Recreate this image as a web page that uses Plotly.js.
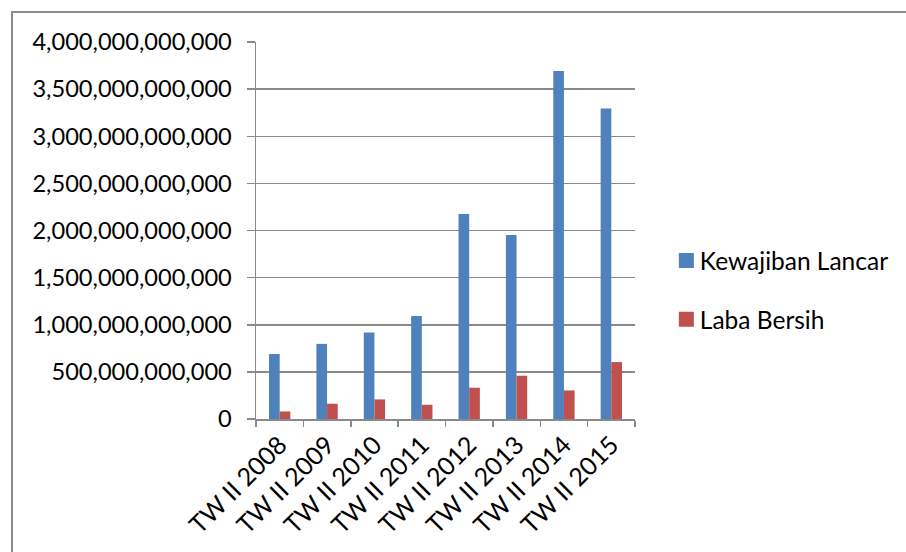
<!DOCTYPE html>
<html><head><meta charset="utf-8">
<script src="https://cdn.plot.ly/plotly-3.0.1.min.js"></script>
<style>
html,body{margin:0;padding:0;background:#fff;overflow:hidden}
#chart{width:906px;height:552px;position:absolute;left:0;top:0}
#frame{position:absolute;left:11px;top:11px;width:1000px;height:1000px;border:2px solid #8c8c8c;pointer-events:none}
</style>
</head><body><div id="chart"></div><div id="frame"></div>
<script>
const categories = ["TW II 2008","TW II 2009","TW II 2010","TW II 2011","TW II 2012","TW II 2013","TW II 2014","TW II 2015"];
const kewajibanLancar = [690e9, 797e9, 917e9, 1094e9, 2175e9, 1952e9, 3693e9, 3294e9];
const labaBersih = [80e9, 162e9, 208e9, 151e9, 332e9, 459e9, 303e9, 604e9];
const seriesNames = ["Kewajiban Lancar","Laba Bersih"];
const yTickVals = [0, 5e11, 1e12, 1.5e12, 2e12, 2.5e12, 3e12, 3.5e12, 4e12];
const yTickText = ["0","500,000,000,000","1,000,000,000,000","1,500,000,000,000","2,000,000,000,000","2,500,000,000,000","3,000,000,000,000","3,500,000,000,000","4,000,000,000,000"];

const FONT = "Lato, 'Open Sans', sans-serif";
const traces = [
  {type:"bar", name:seriesNames[0], x:categories, y:kewajibanLancar, marker:{color:"#4F81BD"}, legendgroup:"a"},
  {type:"bar", name:seriesNames[1], x:categories, y:labaBersih, marker:{color:"#C0504D"}, legendgroup:"b"}
];
const layout = {
  width:906, height:552,
  margin:{l:256, r:269, t:42, b:133, pad:0},
  paper_bgcolor:"rgba(0,0,0,0)", plot_bgcolor:"rgba(0,0,0,0)",
  font:{family:FONT, size:22, color:"#000"},
  barmode:"group", bargap:0.55, bargroupgap:0,
  showlegend:true,
  legend:{x:1.0656, xanchor:"left", y:0.342, yanchor:"middle", font:{family:FONT, size:24.5}, tracegroupgap:24, bgcolor:"rgba(0,0,0,0)", traceorder:"grouped"},
  xaxis:{type:"category", tickangle:-45, showline:true, linecolor:"#8a8a8a", linewidth:1.5, ticks:"outside", ticklen:6, tickcolor:"#8a8a8a", tickwidth:1.5, tickson:"boundaries", showgrid:false, tickfont:{family:FONT, size:25}},
  yaxis:{range:[0,4e12], tickmode:"array", tickvals:yTickVals, ticktext:yTickText, showline:true, linecolor:"#8a8a8a", linewidth:1.5, ticks:"outside", ticklen:8, tickcolor:"#8a8a8a", tickwidth:1.5, showgrid:true, gridcolor:"#8a8a8a", gridwidth:1.5, zeroline:false, ticklabelstandoff:10, tickfont:{family:FONT, size:23.6}}
};
Plotly.newPlot("chart", traces, layout, {displayModeBar:false, staticPlot:true}).then(function(gd){
  gd.querySelectorAll(".legend .legendpoints path").forEach(function(p){
    p.setAttribute("d","M14,7.5H-1V-7.5H14Z");
  });
});
</script>
</body></html>
